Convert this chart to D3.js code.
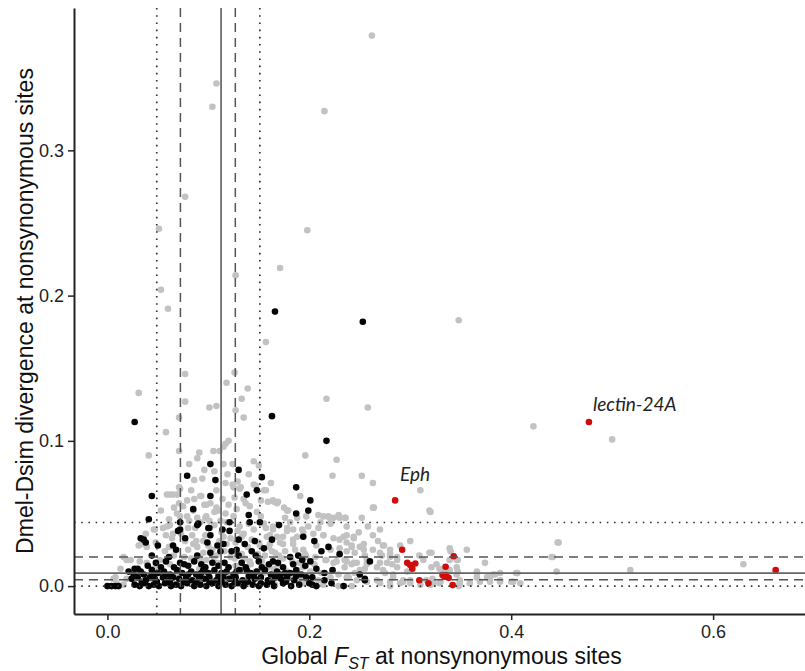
<!DOCTYPE html>
<html>
<head>
<meta charset="utf-8">
<script src="https://cdn.jsdelivr.net/npm/d3@7"></script>
<style>
  body { margin: 0; background: #fff; }
  svg { display: block; }
</style>
</head>
<body>
<svg id="chart" width="805" height="671"></svg>
<script>
// ---- data: [global FST, Dmel-Dsim divergence] at nonsynonymous sites ----
const otherGenes = [
  [0.262,0.379],[0.108,0.346],[0.104,0.330],[0.215,0.327],[0.077,0.268],[0.051,0.246],[0.198,0.245],
  [0.171,0.219],[0.127,0.214],[0.053,0.204],[0.060,0.191],[0.157,0.168],[0.348,0.183],
  [0.077,0.146],[0.126,0.147],[0.031,0.133],[0.077,0.127],[0.118,0.140],[0.139,0.136],[0.101,0.123],
  [0.108,0.124],[0.071,0.116],[0.127,0.121],[0.058,0.106],[0.217,0.129],[0.258,0.123],[0.133,0.129],
  [0.135,0.116],[0.422,0.110],[0.500,0.101],
  [0.120,0.100],[0.117,0.098],[0.115,0.096],[0.041,0.090],[0.071,0.093],[0.081,0.084],[0.091,0.092],
  [0.089,0.088],[0.105,0.093],[0.111,0.093],[0.115,0.084],[0.124,0.084],[0.145,0.086],[0.150,0.083],
  [0.196,0.090],[0.227,0.087],[0.223,0.076],[0.252,0.076],[0.263,0.071],[0.086,0.073],[0.094,0.074],
  [0.162,0.071],[0.310,0.066],[0.320,0.051],[0.263,0.054],[0.300,0.031],[0.447,0.030],
  [0.059,0.063],[0.065,0.063],[0.066,0.054],[0.071,0.068],[0.075,0.055],[0.083,0.066],[0.085,0.052],
  [0.093,0.062],[0.096,0.056],[0.102,0.057],[0.106,0.051],[0.110,0.052],[0.114,0.060],[0.124,0.070],
  [0.129,0.072],[0.132,0.068],[0.135,0.060],[0.137,0.057],[0.147,0.069],[0.148,0.051],[0.157,0.066],
  [0.159,0.058],[0.165,0.058],[0.168,0.057],[0.175,0.054],[0.181,0.044],[0.178,0.038],[0.188,0.034],
  [0.193,0.039],[0.209,0.040],[0.224,0.047],[0.229,0.049],[0.237,0.041],[0.244,0.034],[0.249,0.037],
  [0.254,0.029],[0.263,0.025],[0.280,0.025],[0.270,0.016],[0.038,0.036],[0.034,0.029],[0.046,0.039],
  [0.059,0.041],[0.065,0.036],[0.072,0.048],[0.079,0.048],[0.092,0.044],[0.098,0.048],[0.112,0.045],
  [0.125,0.048],[0.131,0.041],[0.145,0.039],[0.155,0.043],[0.164,0.039],[0.174,0.034],[0.184,0.029],
  [0.194,0.025],[0.206,0.020],[0.216,0.018],[0.224,0.016],[0.235,0.013],[0.244,0.016],[0.250,0.011],
  [0.257,0.018],[0.273,0.011],[0.283,0.006],[0.287,0.018],[0.019,0.018],[0.013,0.012],[0.008,0.006],
  [0.026,0.006],[0.042,0.005],
  [0.125,0.068],[0.131,0.067],[0.145,0.070],[0.155,0.066],[0.164,0.059],[0.169,0.058],[0.191,0.062],
  [0.179,0.052],[0.176,0.047],[0.188,0.047],[0.197,0.048],[0.209,0.049],[0.219,0.048],[0.229,0.048],
  [0.235,0.047],[0.211,0.044],[0.221,0.043],[0.164,0.041],[0.178,0.040],[0.184,0.039],[0.194,0.037],
  [0.204,0.036],[0.161,0.035],[0.168,0.034],[0.214,0.035],[0.224,0.033],[0.230,0.032],[0.237,0.035],
  [0.244,0.033],[0.161,0.029],[0.174,0.029],[0.184,0.032],[0.207,0.028],[0.221,0.025],[0.230,0.026],
  [0.237,0.024],[0.242,0.027],[0.176,0.024],[0.156,0.021],[0.166,0.023],[0.197,0.020],[0.217,0.018],
  [0.227,0.017],[0.235,0.018],[0.242,0.015],[0.115,0.034],[0.133,0.034],[0.151,0.028],[0.122,0.020],
  [0.141,0.017],[0.159,0.013],[0.169,0.015],[0.178,0.010],[0.188,0.011],[0.194,0.013],[0.212,0.009],
  [0.221,0.006],[0.229,0.008],[0.239,0.006],[0.245,0.009],[0.159,0.003],[0.166,0.001],[0.174,0.002],
  [0.191,0.004],[0.214,0.001],[0.229,0.000],[0.242,0.000],
  [0.072,0.067],[0.062,0.063],[0.069,0.063],[0.079,0.059],[0.092,0.062],[0.098,0.056],[0.108,0.054],
  [0.069,0.050],[0.089,0.047],[0.097,0.047],[0.047,0.039],[0.055,0.040],[0.062,0.042],[0.080,0.040],
  [0.084,0.035],[0.058,0.035],[0.064,0.033],[0.031,0.028],[0.039,0.027],[0.085,0.029],[0.089,0.027],
  [0.095,0.031],[0.102,0.024],[0.108,0.021],[0.016,0.020],[0.023,0.018],[0.032,0.017],[0.039,0.016],
  [0.049,0.015],[0.046,0.012],[0.006,0.005],[0.009,0.002],[0.016,0.001],[0.019,0.005],
  [0.178,0.052],[0.214,0.048],[0.220,0.047],[0.230,0.047],[0.236,0.047],[0.252,0.047],[0.264,0.054],
  [0.319,0.052],[0.214,0.035],[0.234,0.034],[0.237,0.030],[0.242,0.028],[0.250,0.027],[0.245,0.023],
  [0.255,0.021],[0.270,0.023],[0.274,0.028],[0.280,0.022],[0.287,0.020],[0.280,0.020],[0.321,0.023],
  [0.339,0.026],[0.356,0.025],[0.237,0.017],[0.247,0.016],[0.257,0.015],[0.277,0.016],[0.287,0.013],
  [0.297,0.010],[0.313,0.018],[0.321,0.013],[0.326,0.015],[0.338,0.011],[0.346,0.008],[0.237,0.006],
  [0.247,0.004],[0.257,0.003],[0.267,0.004],[0.280,0.003],[0.290,0.002],[0.300,0.004],[0.310,0.001],
  [0.320,0.001],[0.329,0.002],[0.349,0.002],
  [0.273,0.028],[0.254,0.025],[0.272,0.021],[0.282,0.015],[0.309,0.021],[0.339,0.018],[0.346,0.018],
  [0.374,0.016],[0.446,0.030],[0.440,0.020],[0.267,0.013],[0.255,0.012],[0.275,0.009],[0.283,0.008],
  [0.329,0.012],[0.339,0.011],[0.346,0.013],[0.366,0.009],[0.376,0.006],[0.382,0.008],[0.389,0.009],
  [0.405,0.009],[0.445,0.010],[0.293,0.004],[0.300,0.002],[0.316,0.004],[0.323,0.002],[0.349,0.004],
  [0.359,0.002],[0.369,0.003],[0.389,0.003],[0.400,0.003],[0.270,0.002],[0.280,0.000],
  [0.340,0.024],[0.319,0.023],[0.347,0.018],[0.441,0.020],[0.518,0.011],[0.630,0.015],[0.333,0.011],
  [0.347,0.010],[0.366,0.010],[0.366,0.006],[0.379,0.006],[0.379,0.003],[0.384,0.008],[0.389,0.004],
  [0.406,0.009],[0.402,0.003],[0.409,0.002],[0.322,0.005],[0.330,0.003],[0.348,0.000],[0.293,0.003],
  [0.083,0.019],[0.127,0.014],[0.061,0.027],[0.149,0.022],[0.097,0.035],[0.174,0.019],[0.052,0.018],
  [0.118,0.029],[0.143,0.032],[0.069,0.009],[0.186,0.025],[0.105,0.020],[0.160,0.027],[0.077,0.031],
  [0.133,0.022],[0.091,0.012],[0.113,0.037],[0.165,0.012],[0.057,0.024],[0.147,0.010],[0.122,0.033],
  [0.100,0.028],[0.080,0.025],[0.139,0.027],[0.171,0.030],[0.153,0.017],[0.109,0.016],[0.066,0.021],
  [0.129,0.038],[0.095,0.023],[0.183,0.017],[0.136,0.019],[0.158,0.034],[0.073,0.036],[0.116,0.024],
  [0.142,0.015],[0.088,0.031],[0.196,0.022],[0.106,0.042],[0.127,0.030],[0.155,0.009],[0.048,0.030],
  [0.180,0.006],[0.120,0.008],[0.098,0.018],[0.144,0.004],[0.163,0.024],[0.076,0.020],[0.135,0.036],
  [0.111,0.031],[0.190,0.016],[0.087,0.040],[0.150,0.030],[0.062,0.015],[0.170,0.021],[0.126,0.019],
  [0.104,0.025],[0.140,0.043],[0.118,0.044],[0.092,0.019],[0.157,0.040],[0.201,0.010],[0.209,0.004],
  [0.195,0.002],[0.186,0.008],[0.205,0.015],
  [0.053,0.052],[0.061,0.046],[0.108,0.066],[0.117,0.071],[0.120,0.056],[0.128,0.053],[0.141,0.055],
  [0.152,0.048],[0.117,0.050],[0.126,0.061],[0.152,0.059],[0.086,0.060],[0.081,0.045],[0.071,0.057],
  [0.101,0.045],[0.106,0.079],[0.119,0.077],[0.140,0.077],[0.096,0.080],[0.199,0.041],[0.263,0.035],
  [0.268,0.031],[0.290,0.028],[0.258,0.041],[0.270,0.039]
];

const candidateGenes = [
  [0.027,0.113],[0.163,0.117],[0.166,0.189],[0.253,0.182],[0.217,0.100],[0.102,0.084],[0.130,0.080],
  [0.079,0.076],[0.107,0.073],[0.153,0.075],[0.187,0.068],[0.044,0.062],[0.102,0.062],[0.138,0.063],
  [0.148,0.066],[0.201,0.059],[0.199,0.052],[0.187,0.050],[0.085,0.053],[0.140,0.049],[0.041,0.046],
  [0.072,0.044],[0.121,0.044],[0.141,0.044],[0.151,0.044],[0.170,0.042],[0.101,0.040],[0.114,0.039],
  [0.121,0.038],[0.089,0.042],[0.070,0.038],[0.194,0.034],[0.205,0.031],[0.219,0.027],[0.146,0.031],
  [0.130,0.032],[0.099,0.030],[0.109,0.028],[0.065,0.028],[0.036,0.032],[0.038,0.030],[0.050,0.028],
  [0.212,0.024],[0.230,0.022],[0.260,0.017],[0.223,0.011],[0.234,0.000],[0.255,0.005],[0.203,0.001],
  [0.027,0.012],[0.163,0.032],[0.136,0.029],[0.115,0.029],[0.072,0.039],[0.033,0.033],[0.068,0.025],
  [0.077,0.033],[0.090,0.043],[0.100,0.040],[0.102,0.035],[0.250,0.008],[0.255,0.004],
  // dense band, divergence ~0.013-0.026
  [0.044,0.021],[0.061,0.020],[0.058,0.017],[0.089,0.021],[0.086,0.017],[0.102,0.023],[0.112,0.024],
  [0.123,0.024],[0.130,0.021],[0.128,0.025],[0.143,0.024],[0.147,0.021],[0.155,0.026],[0.181,0.020],
  [0.189,0.021],[0.193,0.018],[0.164,0.017],[0.201,0.017],[0.207,0.012],[0.174,0.013],[0.072,0.016],
  [0.076,0.015],
  [0.030,0.012],[0.033,0.010],[0.040,0.014],[0.048,0.016],[0.053,0.013],[0.066,0.013],[0.080,0.014],
  [0.093,0.015],[0.097,0.013],[0.104,0.016],[0.110,0.014],[0.116,0.016],[0.120,0.013],[0.133,0.016],
  [0.137,0.013],[0.150,0.017],[0.153,0.013],[0.160,0.015],[0.169,0.016],[0.184,0.015],[0.187,0.011],
  [0.196,0.014],
  // divergence ~0.008-0.012
  [0.021,0.010],[0.026,0.008],[0.036,0.008],[0.044,0.011],[0.050,0.009],[0.056,0.010],[0.062,0.008],
  [0.069,0.011],[0.074,0.009],[0.083,0.010],[0.088,0.008],[0.095,0.011],[0.100,0.009],[0.106,0.011],
  [0.113,0.009],[0.118,0.010],[0.125,0.008],[0.131,0.011],[0.138,0.011],[0.142,0.009],[0.148,0.010],
  [0.156,0.011],[0.162,0.008],[0.168,0.010],[0.176,0.009],[0.181,0.009],[0.192,0.008],[0.215,0.009],
  [0.045,0.008],[0.058,0.008],[0.080,0.008],[0.093,0.009],[0.110,0.007],[0.128,0.010],[0.145,0.007],
  [0.171,0.008],[0.187,0.007],[0.203,0.006],
  // divergence ~0.004-0.007
  [0.024,0.005],[0.030,0.006],[0.038,0.004],[0.042,0.006],[0.047,0.005],[0.055,0.006],[0.060,0.004],
  [0.065,0.006],[0.071,0.005],[0.078,0.006],[0.084,0.004],[0.091,0.006],[0.096,0.005],[0.101,0.006],
  [0.108,0.004],[0.115,0.006],[0.121,0.005],[0.127,0.006],[0.134,0.004],[0.140,0.007],[0.146,0.005],
  [0.152,0.006],[0.159,0.004],[0.166,0.006],[0.172,0.005],[0.178,0.006],[0.185,0.004],[0.197,0.006],
  [0.034,0.003],[0.049,0.003],[0.062,0.003],[0.075,0.003],[0.088,0.003],[0.101,0.003],[0.113,0.003],
  [0.126,0.003],[0.139,0.003],[0.152,0.002],[0.163,0.003],[0.177,0.003],[0.215,0.004],[0.222,0.002],
  // divergence ~0
  [0.000,0.000],[0.004,0.000],[0.008,0.000],[0.011,0.000],[0.027,0.001],[0.032,0.000],[0.036,0.002],
  [0.041,0.000],[0.046,0.001],[0.051,0.000],[0.057,0.002],[0.063,0.000],[0.068,0.001],[0.073,0.000],
  [0.079,0.002],[0.086,0.000],[0.092,0.001],[0.098,0.000],[0.104,0.002],[0.110,0.000],[0.117,0.001],
  [0.123,0.000],[0.129,0.002],[0.135,0.000],[0.144,0.001],[0.150,0.000],[0.158,0.001],[0.165,0.000],
  [0.174,0.002],[0.182,0.000],[0.190,0.001],[0.200,0.002],[0.207,0.000]
];

const immuneGenes = [
  [0.285,0.059],[0.477,0.113],[0.292,0.025],[0.297,0.016],[0.300,0.0145],[0.302,0.012],[0.305,0.0156],
  [0.309,0.004],[0.318,0.002],[0.343,0.0206],[0.335,0.0133],[0.332,0.0076],[0.3355,0.0076],
  [0.338,0.0057],[0.334,0.0064],[0.342,0.0007],[0.662,0.011]
];

const geneLabels = [
  { gene: "Eph", fst: 0.285, div: 0.059 },
  { gene: "lectin-24A", fst: 0.477, div: 0.113 }
];

// genome-wide summary lines: median, inner and outer quantiles
const fstMedian = 0.1126;
const fstInner = [0.0723, 0.1267];
const fstOuter = [0.0489, 0.151];
const divMedian = 0.0089;
const divInner = [0.0044, 0.020];
const divOuter = [0.0, 0.0438];

const xTickValues = [0, 0.2, 0.4, 0.6];
const yTickValues = [0, 0.1, 0.2, 0.3];

// ---- layout ----
const panel = { left: 74, right: 809, top: 8, bottom: 614 };

const x = d3.scaleLinear().domain([-0.0331, 0.695]).range([panel.left, panel.right]);
const y = d3.scaleLinear().domain([-0.0192, 0.398]).range([panel.bottom, panel.top]);

const svg = d3.select("#chart");

svg.append("defs").append("clipPath").attr("id", "panel-clip")
  .append("rect")
  .attr("x", panel.left).attr("y", panel.top)
  .attr("width", panel.right - panel.left).attr("height", panel.bottom - panel.top);

const plot = svg.append("g").attr("clip-path", "url(#panel-clip)");

// points: background genes, candidate genes, immune genes on top
const pointR = 3.3;
plot.append("g").selectAll("circle").data(otherGenes).join("circle")
  .attr("cx", d => x(d[0])).attr("cy", d => y(d[1])).attr("r", pointR)
  .attr("fill", "#c2c2c2");

plot.append("g").selectAll("circle").data(candidateGenes).join("circle")
  .attr("cx", d => x(d[0])).attr("cy", d => y(d[1])).attr("r", pointR)
  .attr("fill", "#050505");

plot.append("g").selectAll("circle").data(immuneGenes).join("circle")
  .attr("cx", d => x(d[0])).attr("cy", d => y(d[1])).attr("r", pointR)
  .attr("fill", "#d10a0a");

// reference lines
const lines = plot.append("g").attr("fill", "none");
function vline(v, dash, color, w) {
  lines.append("line")
    .attr("x1", x(v)).attr("x2", x(v))
    .attr("y1", panel.top).attr("y2", panel.bottom)
    .attr("stroke", color).attr("stroke-width", w)
    .attr("stroke-dasharray", dash);
}
function hline(v, dash, color, w) {
  lines.append("line")
    .attr("x1", panel.left).attr("x2", panel.right)
    .attr("y1", y(v)).attr("y2", y(v))
    .attr("stroke", color).attr("stroke-width", w)
    .attr("stroke-dasharray", dash);
}
fstOuter.forEach(v => vline(v, "1.6,5.6", "#333", 1.7));
fstInner.forEach(v => vline(v, "9,6", "#555", 1.5));
vline(fstMedian, null, "#666", 1.7);
divOuter.forEach(v => hline(v, "1.6,5.6", "#333", 1.7));
divInner.forEach(v => hline(v, "9,6", "#555", 1.5));
hline(divMedian, null, "#666", 1.7);

// gene labels
const labelOffset = { "Eph": [5, -19], "lectin-24A": [4, -11] };
svg.append("g").selectAll("text").data(geneLabels).join("text")
  .attr("x", d => x(d.fst) + labelOffset[d.gene][0])
  .attr("y", d => y(d.div) + labelOffset[d.gene][1])
  .attr("font-family", "Lato, 'Open Sans', sans-serif")
  .attr("font-style", "italic")
  .attr("font-size", 19)
  .attr("fill", "#222")
  .text(d => d.gene);

// axes
const fmt = d3.format(".1f");
const xAxis = svg.append("g").attr("transform", `translate(0,${panel.bottom})`)
  .call(d3.axisBottom(x).tickValues(xTickValues).tickFormat(fmt).tickSize(6).tickSizeOuter(0).tickPadding(5));
const yAxis = svg.append("g").attr("transform", `translate(${panel.left},0)`)
  .call(d3.axisLeft(y).tickValues(yTickValues).tickFormat(fmt).tickSize(6).tickSizeOuter(0).tickPadding(4));

[xAxis, yAxis].forEach(a => {
  a.select(".domain").attr("stroke", "#222").attr("stroke-width", 2);
  a.selectAll(".tick line").attr("stroke", "#222").attr("stroke-width", 1.5);
  a.selectAll(".tick text")
    .attr("fill", "#222")
    .attr("font-family", "'Liberation Sans', Arial, sans-serif")
    .attr("font-size", 18);
});

// axis titles
const xTitle = svg.append("text")
  .attr("x", (panel.left + panel.right) / 2)
  .attr("y", 664)
  .attr("text-anchor", "middle")
  .attr("font-family", "'Liberation Sans', Arial, sans-serif")
  .attr("font-size", 23)
  .attr("fill", "#111");
xTitle.append("tspan").text("Global ");
xTitle.append("tspan").attr("font-style", "italic").text("F");
xTitle.append("tspan").attr("font-style", "italic").attr("font-size", 16).attr("dy", 5).text("ST");
xTitle.append("tspan").attr("dy", -5).text(" at nonsynonymous sites");

svg.append("text")
  .attr("transform", `translate(33,${(panel.top + panel.bottom) / 2}) rotate(-90)`)
  .attr("text-anchor", "middle")
  .attr("font-family", "'Liberation Sans', Arial, sans-serif")
  .attr("font-size", 23)
  .attr("fill", "#111")
  .text("Dmel-Dsim divergence at nonsynonymous sites");
</script>
</body>
</html>
